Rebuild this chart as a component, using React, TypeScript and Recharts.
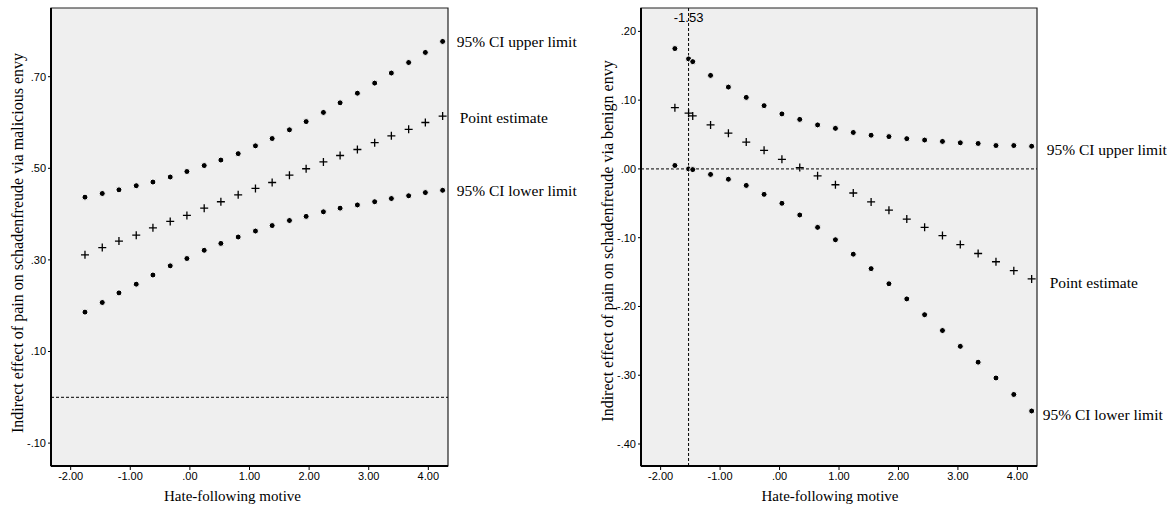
import { ScatterChart, Scatter, XAxis, YAxis, CartesianGrid, ReferenceLine, ReferenceArea } from 'recharts';

// left panel: malicious envy
const leftX = [-1.76, -1.47, -1.19, -0.90, -0.62, -0.33, -0.05, 0.24, 0.52, 0.81, 1.10, 1.38, 1.67, 1.95, 2.24, 2.52, 2.81, 3.10, 3.38, 3.67, 3.95, 4.24];
const leftUpper = [0.437, 0.445, 0.453, 0.462, 0.470, 0.481, 0.493, 0.506, 0.518, 0.532, 0.549, 0.565, 0.584, 0.602, 0.622, 0.643, 0.664, 0.686, 0.708, 0.731, 0.753, 0.777];
const leftPoint = [0.311, 0.327, 0.341, 0.354, 0.370, 0.384, 0.397, 0.413, 0.427, 0.442, 0.456, 0.469, 0.485, 0.499, 0.514, 0.528, 0.541, 0.556, 0.571, 0.585, 0.600, 0.614];
const leftLower = [0.186, 0.207, 0.228, 0.247, 0.267, 0.287, 0.303, 0.321, 0.336, 0.350, 0.363, 0.375, 0.386, 0.395, 0.405, 0.413, 0.420, 0.427, 0.434, 0.440, 0.447, 0.452];

// right panel: benign envy (includes the Johnson-Neyman point at -1.53)
const rightX = [-1.76, -1.53, -1.46, -1.16, -0.86, -0.56, -0.26, 0.04, 0.34, 0.64, 0.94, 1.24, 1.54, 1.84, 2.14, 2.44, 2.74, 3.04, 3.34, 3.64, 3.94, 4.24];
const rightUpper = [0.175, 0.160, 0.156, 0.136, 0.119, 0.104, 0.092, 0.080, 0.072, 0.064, 0.059, 0.053, 0.049, 0.047, 0.044, 0.042, 0.040, 0.038, 0.037, 0.034, 0.034, 0.033];
const rightPoint = [0.089, 0.081, 0.077, 0.064, 0.052, 0.039, 0.027, 0.014, 0.002, -0.010, -0.023, -0.035, -0.048, -0.060, -0.073, -0.085, -0.097, -0.110, -0.123, -0.135, -0.148, -0.160];
const rightLower = [0.005, 0.000, -0.001, -0.008, -0.015, -0.024, -0.037, -0.050, -0.067, -0.085, -0.103, -0.124, -0.145, -0.167, -0.189, -0.212, -0.235, -0.258, -0.281, -0.304, -0.328, -0.352];

const xTicks = [-2, -1, 0, 1, 2, 3, 4];
const leftYTicks = [-0.1, 0.1, 0.3, 0.5, 0.7];
const rightYTicks = [-0.4, -0.3, -0.2, -0.1, 0, 0.1, 0.2];
const jnValue = -1.53;

const seriesNames = ['95% CI upper limit', 'Point estimate', '95% CI lower limit'];
const xTitle = 'Hate-following motive';
const leftYTitle = 'Indirect effect of pain on schadenfreude via malicious envy';
const rightYTitle = 'Indirect effect of pain on schadenfreude via benign envy';

const serif = '"Liberation Serif", "Times New Roman", serif';
const sans = '"Liberation Sans", Arial, sans-serif';

const fmt = (v: number) => {
    const s = Math.abs(v).toFixed(2).replace(/^0/, '');
    return (v < -1e-9 ? '-' : '') + s;
};

const toRows = (xs: number[], ys: number[]) => xs.map((x, i) => ({ x, y: ys[i] }));

// marker + end label drawn at the last point of each series
const makeShape = (kind: 'dot' | 'plus', lastX: number, label: string, dx: number, dy: number) => (p: any) => {
    const { cx, cy, payload } = p;
    const isLast = payload && payload.x === lastX;
    return (
        <g>
            {kind === 'dot' ? (
                <circle cx={cx} cy={cy} r={3} fill="#000" stroke="#fff" strokeWidth={1} />
            ) : (
                <path d={`M${cx - 4},${cy}H${cx + 4}M${cx},${cy - 4}V${cy + 4}`} stroke="#000" strokeWidth={1.3} fill="none" />
            )}
            {isLast && (
                <text x={cx + dx} y={cy + dy} dy="0.35em" fontFamily={serif} fontSize={15.5} fill="#000">
                    {label}
                </text>
            )}
        </g>
    );
};

interface PanelProps {
    xs: number[];
    upper: number[];
    point: number[];
    lower: number[];
    yDomain: [number, number];
    yTicks: number[];
    yTitle: string;
    width: number;
    marginRight: number;
    xTitleShift: number;
    yTitleShift: number;
    labelOffsets: [number, number][];
    showJN?: boolean;
}

function Panel(props: PanelProps) {
    const { xs, upper, point, lower, yDomain, yTicks, yTitle, width, marginRight, xTitleShift, yTitleShift, labelOffsets, showJN } = props;
    const lastX = xs[xs.length - 1];
    const xDomain: [number, number] = [-2.33, 4.33];
    const tick = { fill: '#000', fontSize: 11, fontFamily: sans };

    return (
        <ScatterChart width={width} height={508} margin={{ top: 8, right: marginRight, left: 21, bottom: 12 }}>
            <CartesianGrid horizontal={false} vertical={false} fill="#efefef" />
            <XAxis
                type="number"
                dataKey="x"
                domain={xDomain}
                ticks={xTicks}
                tickFormatter={fmt}
                height={30}
                axisLine={{ stroke: '#000', strokeWidth: 2 }}
                tickLine={{ stroke: '#000' }}
                tickSize={4}
                tick={tick}
                label={{
                    content: (lp: any) => {
                        const vb = lp.viewBox;
                        return (
                            <text x={vb.x + vb.width / 2 + xTitleShift} y={501} textAnchor="middle" fontFamily={serif} fontSize={15} fill="#000">
                                {xTitle}
                            </text>
                        );
                    },
                }}
            />
            <YAxis
                type="number"
                dataKey="y"
                domain={yDomain}
                ticks={yTicks}
                tickFormatter={fmt}
                width={30}
                axisLine={{ stroke: '#000', strokeWidth: 2 }}
                tickLine={{ stroke: '#000' }}
                tickSize={3}
                tick={tick}
                label={{
                    content: (lp: any) => {
                        const vb = lp.viewBox;
                        const cx = vb.x - 4;
                        const cy = vb.y + vb.height / 2 + yTitleShift;
                        return (
                            <text x={cx} y={cy} transform={`rotate(-90 ${cx} ${cy})`} textAnchor="middle" dy="0.35em" fontFamily={serif} fontSize={16} fill="#000">
                                {yTitle}
                            </text>
                        );
                    },
                }}
            />
            <ReferenceArea x1={xDomain[0]} x2={xDomain[1]} y1={yDomain[0]} y2={yDomain[1]} fill="none" stroke="#222" strokeWidth={1.2} />
            <ReferenceLine y={0} stroke="#000" strokeDasharray="3 2" strokeWidth={1} />
            {showJN && (
                <ReferenceLine
                    x={jnValue}
                    stroke="#000"
                    strokeDasharray="3 2"
                    strokeWidth={1}
                    label={{ value: fmt(jnValue), position: 'insideTop', offset: 5, fill: '#000', fontSize: 13, fontFamily: sans }}
                />
            )}
            <Scatter data={toRows(xs, upper)} isAnimationActive={false} shape={makeShape('dot', lastX, seriesNames[0], labelOffsets[0][0], labelOffsets[0][1])} />
            <Scatter data={toRows(xs, point)} isAnimationActive={false} shape={makeShape('plus', lastX, seriesNames[1], labelOffsets[1][0], labelOffsets[1][1])} />
            <Scatter data={toRows(xs, lower)} isAnimationActive={false} shape={makeShape('dot', lastX, seriesNames[2], labelOffsets[2][0], labelOffsets[2][1])} />
        </ScatterChart>
    );
}

export default function App() {
    return (
        <div style={{ position: 'absolute', left: 0, top: 0, width: 1175, height: 508, background: '#fff' }}>
            <div style={{ position: 'absolute', left: 0, top: 0 }}>
                <Panel
                    xs={leftX}
                    upper={leftUpper}
                    point={leftPoint}
                    lower={leftLower}
                    yDomain={[-0.15, 0.85]}
                    yTicks={leftYTicks}
                    yTitle={leftYTitle}
                    width={590}
                    marginRight={142}
                    xTitleShift={-17}
                    yTitleShift={6}
                    labelOffsets={[[14, 0], [17, 1], [14, 0]]}
                />
            </div>
            <div style={{ position: 'absolute', left: 590, top: 0 }}>
                <Panel
                    xs={rightX}
                    upper={rightUpper}
                    point={rightPoint}
                    lower={rightLower}
                    yDomain={[-0.432, 0.234]}
                    yTicks={rightYTicks}
                    yTitle={rightYTitle}
                    width={585}
                    marginRight={138}
                    xTitleShift={-9}
                    yTitleShift={4}
                    labelOffsets={[[15, 3], [18, 4], [11, 4]]}
                    showJN
                />
            </div>
        </div>
    );
}
